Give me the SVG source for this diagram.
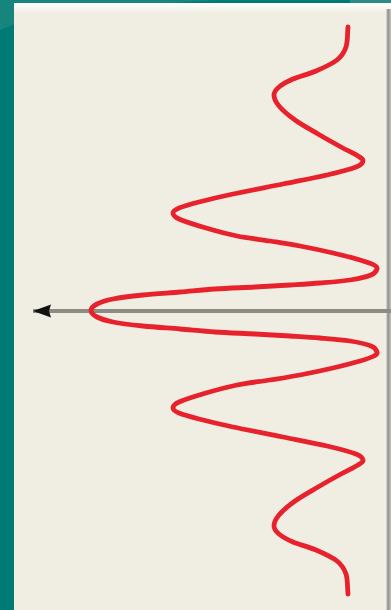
<svg xmlns="http://www.w3.org/2000/svg" width="391" height="610" viewBox="0 0 391 610">
<style>
.wave{fill:none;stroke:#e8222d;stroke-width:4.8;stroke-linecap:round;stroke-linejoin:round}
.axis{fill:none;stroke:#8c8c84;stroke-width:4}
</style>
<defs>
<linearGradient id="topfade" x1="0" y1="0" x2="0" y2="1">
<stop offset="0" stop-color="#ffffff"/>
<stop offset="1" stop-color="#f0eee3"/>
</linearGradient>
<linearGradient id="rightedge" x1="0" y1="0" x2="1" y2="0">
<stop offset="0" stop-color="#e6e4da"/>
<stop offset="0.4" stop-color="#8e8e88"/>
<stop offset="1" stop-color="#c9c8c0"/>
</linearGradient>
<marker id="head" markerWidth="20" markerHeight="16" refX="19" refY="8" orient="auto" markerUnits="userSpaceOnUse">
<path d="M19,8 L1,1.5 L3,8 L1,14.5 Z" fill="#111"/>
</marker>
</defs>
<g id="background">
<rect x="0" y="0" width="391" height="610" fill="#007a74"/>
<path d="M0,0 H220 Q120,6 40,14 L0,30 Z" fill="#2a8f88" opacity="0.5"/>
<rect x="350" y="0" width="41" height="3.5" fill="#2e8c86"/>
<rect x="14" y="3" width="377" height="607" fill="#f0eee3"/>
<rect x="14" y="3" width="377" height="10" fill="url(#topfade)"/>
<rect x="386" y="9" width="5" height="601" fill="url(#rightedge)"/>
</g>
<g id="connectors">
<path id="axis-arrow" class="axis" d="M391,311 H33" marker-end="url(#head)"/>
</g>
<g id="wave">
<path class="wave" d="M348,27 C347.33,33.67 347.83,41.5 346,47 C344.17,52.5 342,56 337,60 C332,64 323.33,67.83 316,71 C308.67,74.17 299.17,76.33 293,79 C286.83,81.67 282.17,84.33 279,87 C275.83,89.67 274,91.83 274,95 C274,98.17 275.5,101.83 279,106 C282.5,110.17 288.5,115.33 295,120 C301.5,124.67 310.33,129.5 318,134 C325.67,138.5 334.33,143.33 341,147 C347.67,150.67 354.33,153.67 358,156 C361.67,158.33 363.33,159.17 363,161 C362.67,162.83 362,164.67 356,167 C350,169.33 339.17,172.17 327,175 C314.83,177.83 298.67,180.83 283,184 C267.33,187.17 247,191 233,194 C219,197 208,199.67 199,202 C190,204.33 183.33,206.17 179,208 C174.67,209.83 173,211.17 173,213 C173,214.83 173.5,216.5 179,219 C184.5,221.5 196.33,225.17 206,228 C215.67,230.83 226.33,233.83 237,236 C247.67,238.17 259.5,239.33 270,241 C280.5,242.67 289.5,244 300,246 C310.5,248 323,250.67 333,253 C343,255.33 353.17,258 360,260 C366.83,262 371.17,263.5 374,265 C376.83,266.5 377.5,267.33 377,269 C376.5,270.67 375.5,273.17 371,275 C366.5,276.83 358.5,278.67 350,280 C341.5,281.33 330,282.17 320,283 C310,283.83 300.83,284.33 290,285 C279.17,285.67 267.5,286.33 255,287 C242.5,287.67 227.5,288.17 215,289 C202.5,289.83 192,291 180,292 C168,293 154.17,293.83 143,295 C131.830,296.17 120.67,297.5 113,299 C105.33,300.5 100.67,302.08 97,304 C93.33,305.92 91,308.33 91,310.5 C91,312.67 93.33,315.08 97,317 C100.67,318.92 105.33,320.5 113,322 C120.67,323.5 131.83,324.83 143,326 C154.17,327.17 168,328 180,329 C192,330 202.5,331.17 215,332 C227.5,332.83 242.5,333.33 255,334 C267.5,334.67 279.17,335.33 290,336 C300.83,336.67 310,337.17 320,338 C330,338.83 341.5,339.67 350,341 C358.5,342.33 366.5,344.17 371,346 C375.5,347.83 376.5,350.33 377,352 C377.5,353.67 376.83,354.5 374,356 C371.17,357.5 366.83,359 360,361 C353.17,363 343,365.67 333,368 C323,370.33 310.5,373 300,375 C289.5,377 280.5,378.33 270,380 C259.5,381.67 247.67,382.83 237,385 C226.33,387.17 215.67,390.17 206,393 C196.33,395.83 184.5,399.5 179,402 C173.5,404.5 173,406.17 173,408 C173,409.83 174.67,411.17 179,413 C183.33,414.83 190,416.67 199,419 C208,421.33 219,424 233,427 C247,430 267.33,433.83 283,437 C298.67,440.17 314.83,443.17 327,446 C339.17,448.83 350,451.67 356,454 C362,456.33 362.67,458.17 363,460 C363.33,461.83 361.67,462.67 358,465 C354.33,467.33 347.67,470.33 341,474 C334.33,477.67 325.67,482.5 318,487 C310.33,491.5 301.5,496.33 295,501 C288.5,505.67 282.5,510.83 279,515 C275.5,519.17 274,522.83 274,526 C274,529.17 275.83,531.33 279,534 C282.17,536.67 286.83,539.33 293,542 C299.17,544.67 308.67,546.83 316,550 C323.33,553.17 332,557 337,561 C342,565 344.17,568.5 346,574 C347.83,579.5 347.33,587.33 348,594"/>
</g>
</svg>
